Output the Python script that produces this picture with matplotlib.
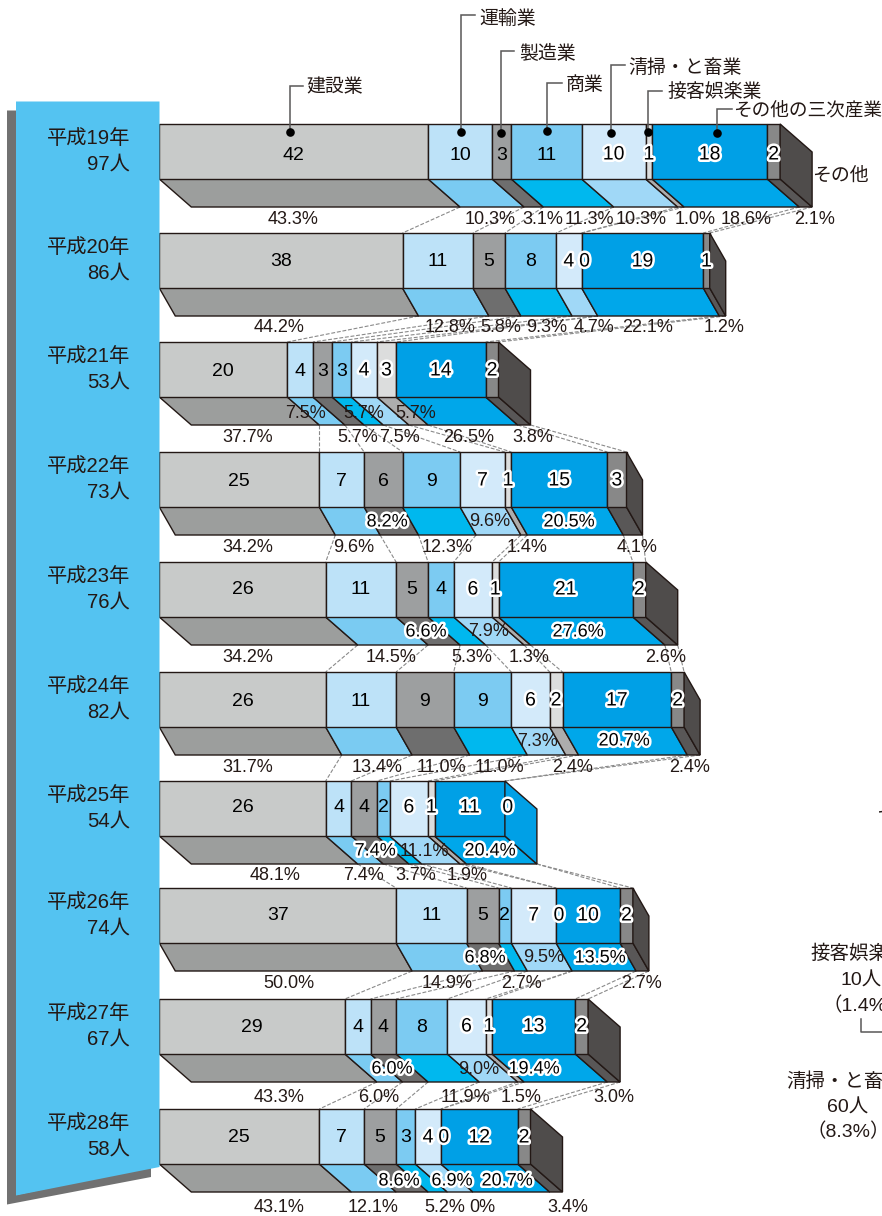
import matplotlib
matplotlib.use('Agg')
import matplotlib.pyplot as plt
import matplotlib.patheffects as pe
import numpy as np

plt.rcParams['font.family'] = ['Liberation Sans', 'Noto Sans CJK JP', 'DejaVu Sans']

# ---------- data ----------
years = ['平成19年', '平成20年', '平成21年', '平成22年', '平成23年',
         '平成24年', '平成25年', '平成26年', '平成27年', '平成28年']
totals = [97, 86, 53, 73, 76, 82, 54, 74, 67, 58]
categories = ['建設業', '運輸業', '製造業', '商業', '清掃・と畜業', '接客娯楽業', 'その他の三次産業', 'その他']
kensetsu = [42, 38, 20, 25, 26, 26, 26, 37, 29, 25]
unyu = [10, 11, 4, 7, 11, 11, 4, 11, 4, 7]
seizo = [3, 5, 3, 6, 5, 9, 4, 5, 4, 5]
shogyo = [11, 8, 3, 9, 4, 9, 2, 2, 8, 3]
seiso = [10, 4, 4, 7, 6, 6, 6, 7, 6, 4]
sekkyaku = [1, 0, 3, 1, 1, 2, 1, 0, 1, 0]
sanji = [18, 19, 14, 15, 21, 17, 11, 10, 13, 12]
sonota = [2, 1, 2, 3, 2, 2, 0, 2, 2, 2]

pct_below = [
    ['43.3%', '10.3%', '3.1%', '11.3%', '10.3%', '1.0%', '18.6%', '2.1%'],
    ['44.2%', '12.8%', '5.8%', '9.3%', '4.7%', '22.1%', '1.2%'],
    ['37.7%', '5.7%', '7.5%', '26.5%', '3.8%'],
    ['34.2%', '9.6%', '12.3%', '1.4%', '4.1%'],
    ['34.2%', '14.5%', '5.3%', '1.3%', '2.6%'],
    ['31.7%', '13.4%', '11.0%', '11.0%', '2.4%', '2.4%'],
    ['48.1%', '7.4%', '3.7%', '1.9%'],
    ['50.0%', '14.9%', '2.7%', '2.7%'],
    ['43.3%', '6.0%', '11.9%', '1.5%', '3.0%'],
    ['43.1%', '12.1%', '5.2%', '0%', '3.4%'],
]
pct_inner = [
    [], [],
    ['7.5%', '5.7%', '5.7%'],
    ['8.2%', '9.6%', '20.5%'],
    ['6.6%', '7.9%', '27.6%'],
    ['7.3%', '20.7%'],
    ['7.4%', '11.1%', '20.4%'],
    ['6.8%', '9.5%', '13.5%'],
    ['6.0%', '9.0%', '19.4%'],
    ['8.6%', '6.9%', '20.7%'],
]

# ---------- layout and style ----------
W, H = 882, 1216
X0, PX = 159.3, 6.4           # pixel of zero, pixels per person
row_top = [124, 233, 342, 452, 562, 672, 781, 888, 999, 1109]
number_dy = [31, 29, 29, 29, 28, 29, 27, 28, 28, 29]
FRONT_H, DEPTH_H = 55, 28
depth_dx = [5, 2.5, 5, 2.5, 5, 2.5, 5, 2.5, 5, 5]   # in persons
front_col = ['#c8cac9', '#bde2f8', '#9d9fa0', '#7ccbf2', '#d3eafa', '#dcdddd', '#00a0e6', '#888888']
floor_col = ['#9c9e9d', '#7acbf2', '#6e6e6e', '#00b8ee', '#a0d8f7', '#adadad', '#00a7ea', '#595757']
side_dark, side_blue = '#4f4c4b', '#00a0e6'
EDGE = '#231815'
TXT = '#231815'

below_x = [
    [293, 490, 543, 589, 641, 695, 746, 815],
    [279, 450, 501, 547, 594, 648, 724],
    [248, 358, 400, 469, 533],
    [248, 354, 447, 527, 637],
    [248, 391, 472, 529, 666],
    [248, 377, 441, 499, 573, 690],
    [275, 364, 416, 467],
    [289, 447, 522, 641],
    [279, 379, 465, 521, 614],
    [279, 373, 445, 482, 568],
]
below_y = [219, 328, 438, 548, 658, 767, 876, 983, 1098, 1207]
inner_x = [
    [], [],
    [306, 364, 416],
    [387, 490, 569],
    [426, 489, 578],
    [537, 624],
    [375, 424, 490],
    [485, 544, 600],
    [392, 479, 534],
    [399, 452, 507],
]
inner_y = [0, 0, 413, 522, 632, 741, 851, 958, 1069, 1181]
inner_halo = [
    [], [],
    [0, 0, 0],
    [1, 0, 1],
    [1, 0, 1],
    [0, 1],
    [1, 0, 1],
    [1, 0, 1],
    [1, 0, 1],
    [1, 1, 1],
]
halo = [pe.withStroke(linewidth=3.6, foreground='white')]
FS_NUM = 14.0
FS_PCT = 13.0
FS_BAN = 14.6
FS_LAB = 13.6

fig = plt.figure(figsize=(W / 100, H / 100), dpi=100)
fig.patch.set_facecolor('white')

# data axes: x in persons, y in pixels
ax = fig.add_axes([0, 0, 1, 1])
ax.set_xlim(-X0 / PX, (W - X0) / PX)
ax.set_ylim(H, 0)
ax.axis('off')

# overlay axes in pixels for banner, captions and leaders
px = fig.add_axes([0, 0, 1, 1], sharey=None)
px.set_xlim(0, W)
px.set_ylim(H, 0)
px.axis('off')
px.patch.set_alpha(0)

series = np.array([kensetsu, unyu, seizo, shogyo, seiso, sekkyaku, sanji, sonota], dtype=float).T

# banner
px.fill([7, 16, 16, 151, 151, 7], [110.5, 110.5, 1195, 1167, 1177, 1204.5], color='#717171', lw=0, zorder=1)
px.fill([16, 159.5, 159.5, 16], [101.5, 101.5, 1167, 1195.5], color='#54c3f1', lw=0, zorder=2)
for i, (y, n) in enumerate(zip(years, totals)):
    t = row_top[i]
    px.text(130, t + 14.5, y, ha='right', va='center', fontsize=FS_BAN, color=TXT, zorder=5)
    px.text(130, t + 40.5, f'{n}人', ha='right', va='center', fontsize=FS_BAN, color=TXT, zorder=5)

# dashed connectors between rows
for i in range(len(years) - 1):
    c0 = np.cumsum(series[i])
    c1 = np.cumsum(series[i + 1])
    y0 = row_top[i] + FRONT_H + DEPTH_H
    y1 = row_top[i + 1]
    for k in range(len(categories)):
        ax.plot([c0[k] + depth_dx[i], c1[k]], [y0, y1], color='#8a8a8a', lw=0.8,
                dashes=(3.5, 1.6), zorder=1)

# bars
for i in range(len(years)):
    t = row_top[i]
    b = t + FRONT_H
    f = b + DEPTH_H
    d = depth_dx[i]
    vals = series[i]
    left = np.concatenate([[0], np.cumsum(vals)[:-1]])
    for k in range(len(categories)):
        v, l = vals[k], left[k]
        if v > 0:
            ax.fill([l, l + v, l + v + d, l + d], [b, b, f, f], facecolor=floor_col[k],
                    edgecolor=EDGE, lw=1.0, zorder=2, joinstyle='miter')
            ax.bar(l, FRONT_H, width=v, bottom=t, align='edge', color=front_col[k],
                   edgecolor=EDGE, lw=1.0, zorder=3)
    end = vals.sum()
    ax.fill([end, end + d, end + d, end], [t, t + DEPTH_H, f, b],
            facecolor=side_blue if vals[-1] == 0 else side_dark,
            edgecolor=EDGE, lw=1.0, zorder=3, joinstyle='miter')
    for k in range(len(categories)):
        v, l = vals[k], left[k]
        xc = l + v / 2 + (0.45 if v == 0 else 0)
        tx = ax.text(xc, t + number_dy[i], f'{int(v)}', ha='center', va='center', fontsize=FS_NUM,
                     color='black', zorder=6)
        if k >= 4:
            tx.set_path_effects(halo)

# percent captions
for xs, y, labs in zip(below_x, below_y, pct_below):
    for x, s in zip(xs, labs):
        px.text(x, y, s, ha='center', va='center', fontsize=FS_PCT, color=TXT, zorder=7)
for xs, y, labs, hs in zip(inner_x, inner_y, pct_inner, inner_halo):
    for x, s, h in zip(xs, labs, hs):
        tx = px.text(x, y, s, ha='center', va='center', fontsize=FS_PCT,
                     color='black' if h else TXT, zorder=7)
        if h:
            tx.set_path_effects(halo)

# leaders on the first row
dot_x = [290, 461, 500.5, 547, 611, 648, 717]
dot_y = [132, 132, 132.5, 131, 132.5, 132, 133]
lead_top = [86, 15, 51, 83, 65, 91, 109]
lead_end = [303, 475, 514, 562, 625, 662, 732]
lab_x = [306, 479, 519, 566, 628, 667, 733.5]
lab_y = [87, 19, 54, 85, 68, 92, 111.5]
lab_fs = [FS_LAB] * 6 + [13.45]
for k in range(7):
    px.plot([dot_x[k], dot_x[k], lead_end[k]], [dot_y[k], lead_top[k], lead_top[k]],
            color='#595757', lw=1.1, zorder=8, solid_joinstyle='miter')
    px.plot([dot_x[k]], [dot_y[k]], 'o', ms=6.2, color='black', mew=0, zorder=9)
    px.text(lab_x[k], lab_y[k], categories[k], ha='left', va='center', fontsize=lab_fs[k],
            color=TXT, zorder=9, clip_on=False)
px.text(812, 176, categories[7], ha='left', va='center', fontsize=FS_LAB, color=TXT, zorder=9)

# fragments of the neighbouring chart, cut by the page edge
side_labels = [
    (876, 814, 'その他の三次産業', 'left'),
    (874, 870, '（18.7%）', 'left'),
    (810, 954, '接客娯楽業', 'left'),
    (841, 981, '10人', 'left'),
    (822, 1006, '（1.4%）', 'left'),
    (786, 1082, '清掃・と畜業', 'left'),
    (827, 1108, '60人', 'left'),
    (807, 1132, '（8.3%）', 'left'),
]
for x, y, s, ha in side_labels:
    px.text(x, y, s, ha=ha, va='center', fontsize=FS_BAN - 0.6, color=TXT, zorder=9)
px.plot([861, 861, 882], [1019, 1032, 1032], color='#595757', lw=1.1, zorder=8)

fig.savefig('out.png', dpi=100)
